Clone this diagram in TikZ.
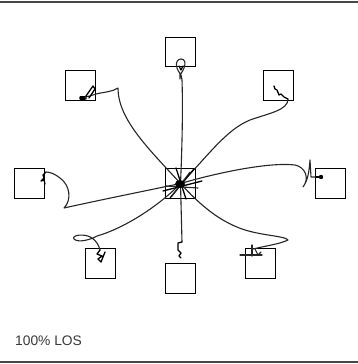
\documentclass[tikz,border=0pt]{standalone}
\usepackage{fontspec}
\setmainfont{Liberation Sans}
\begin{document}
\begin{tikzpicture}[x=1pt,y=-1pt,
  box/.style={draw=black,line width=1.4pt,minimum size=29.5pt,inner sep=0pt},
  wire/.style={draw=black!85,line width=1.1pt,line join=round,line cap=round},
  mess/.style={draw=black,line width=1.3pt,line join=round,line cap=round},
  frame/.style={draw=black!72,line width=2pt}]
\useasboundingbox (0,0) rectangle (358,364);
\draw[frame] (0,1.5) -- (358,1.5);
\draw[frame] (0,362.2) -- (358,362.2);
% boxes
\node[box] (c)  at (180.5,183.5) {};
\node[box] (n)  at (180.5,52) {};
\node[box] (nw) at (80.5,85.5) {};
\node[box] (ne) at (278.5,85.5) {};
\node[box] (w)  at (29.5,183.5) {};
\node[box] (e)  at (330.5,183.5) {};
\node[box] (sw) at (100.5,263.5) {};
\node[box] (s)  at (180.5,278.5) {};
\node[box] (se) at (260.5,263.5) {};
% end points
\coordinate (en)  at (180,73);
\coordinate (enw) at (84,97);
\coordinate (ene) at (274,86);
\coordinate (ew)  at (45,184);
\coordinate (ee)  at (316,177);
\coordinate (esw) at (105,252);
\coordinate (es)  at (181,258);
\coordinate (ese) at (253,249);
% top
\draw[wire] (c.center) .. controls (182,150) and (183,110) .. (182,80)
  .. controls (182,74) and (178,72) .. (177,68)
  .. controls (175,62) and (178,59) .. (181,59)
  .. controls (185,59) and (186,63) .. (184,68)
  .. controls (183,72) and (179,74) .. (180,79) -- (en);
\draw[mess] (179,66) -- (181,70) -- (183,66);
% top-left
\draw[wire] (c.center) .. controls (150,150) and (118,120) .. (118,88)
  .. controls (112,92) and (104,92) .. (96,94) -- (90,96) -- (enw);
\draw[mess] (enw) -- (80,97) -- (80,99) -- (86,99) -- (86,96) -- (93,86) -- (95,89) -- (89,98);
\fill (80,96) rectangle (85,99.5);
% top-right
\draw[wire] (c.center) .. controls (205,160) and (225,130) .. (250,120)
  .. controls (270,113) and (288,110) .. (288,99);
\draw[mess] (288,99) -- (284,97) -- (281,94) -- (279,95) -- (277,90) -- (275,89) -- (ene);
% left
\draw[wire] (c.center) .. controls (140,192) and (100,200) .. (64,208)
  .. controls (72,200) and (70,185) .. (60,178)
  .. controls (55,174) and (50,172) .. (46,172);
\draw[mess] (46,172) -- (43,175) -- (44,178) -- (41,181) -- (44,180) -- (ew);
% right
\draw[wire] (c.center) .. controls (220,172) and (270,162) .. (295,165)
  .. controls (305,167) and (310,178) .. (303,187)
  .. controls (308,180) and (309,172) .. (310,160) -- (311,177) -- (ee);
\draw[mess] (ee) -- (320,177);
\fill (321,177) circle (2.2);
% bottom-left
\draw[wire] (c.center) .. controls (160,205) and (125,228) .. (97,236)
  .. controls (90,240) and (78,243) .. (74,239)
  .. controls (71,235) and (85,233) .. (92,238)
  .. controls (96,241) and (99,245) .. (100,250);
\draw[mess] (100,250) -- (97,254) -- (102,256) -- (98,259) -- (101,262) -- (esw);
% bottom
\draw[wire] (c.center) -- (182,242);
\draw[mess] (182,242) -- (178,243) -- (178,250) -- (181,253) -- (179,256) -- (es);
% bottom-right
\draw[wire] (c.center) .. controls (200,205) and (220,222) .. (245,230)
  .. controls (265,236) and (285,236) .. (288,240)
  .. controls (280,244) and (265,246) .. (ese);
\draw[wire] (240,255) -- (262,255);
\draw[wire] (252,245) -- (252,256);
\draw[wire] (255,249) -- (258,255) -- (261,252);
% centre clutter
\draw[mess] (163,191) -- (202,181);
\draw[mess] (170,198) -- (194,169);
\draw[mess] (176,168) -- (186,199);
\draw[wire] (172,196) -- (190,172);
\draw[wire] (166,186) -- (198,188);
\fill (180,184) ellipse (5 and 4);
% label
\node[anchor=base west,inner sep=0pt,text=black!78,font=\fontsize{13.8}{16}\selectfont] (lbl) at (15,345) {100\% LOS};
\end{tikzpicture}
\end{document}
